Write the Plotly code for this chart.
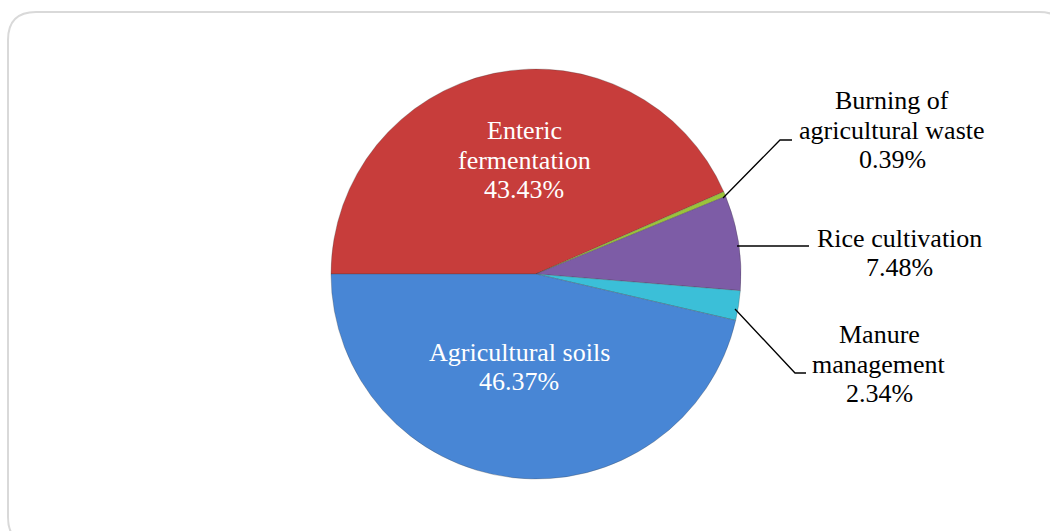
import plotly.graph_objects as go

# ---- data (clockwise from 9 o'clock) ----
categories = ["Enteric fermentation", "Burning of agricultural waste",
              "Rice cultivation", "Manure management", "Agricultural soils"]
shares = [43.43, 0.39, 7.48, 2.34, 46.37]
label_lines = {
    "Agricultural soils": ["Agricultural soils"],
    "Manure management": ["Manure", "management"],
    "Rice cultivation": ["Rice cultivation"],
    "Burning of agricultural waste": ["Burning of", "agricultural waste"],
    "Enteric fermentation": ["Enteric", "fermentation"],
}
colors = ["#C73D3B", "#9BC23C", "#7D5CA6", "#3BBFD8", "#4886D5"]

W, H = 1050, 531
FONT = "Liberation Serif, Times New Roman, serif"
LINE_GAP = 29.5

def px(x):
    return x / W

def py(y):
    return 1 - y / H

# pie geometry (pixels)
cx, cy, r = 536, 274, 205

fig = go.Figure()
fig.add_trace(go.Pie(
    labels=categories,
    values=shares,
    sort=False,
    direction="clockwise",
    rotation=-90,
    marker=dict(colors=colors, line=dict(color="rgba(60,60,60,0.35)", width=0.8)),
    textinfo="none",
    hoverinfo="label+percent",
    showlegend=False,
    domain=dict(x=[px(cx - r), px(cx + r)], y=[py(cy + r), py(cy - r)]),
))

# label placement (pixel centres of text blocks) and colours
label_pos = {
    "Agricultural soils": (519, 367, "white"),
    "Manure management": (879, 364, "black"),
    "Rice cultivation": (899, 253, "black"),
    "Burning of agricultural waste": (892, 130, "black"),
    "Enteric fermentation": (524, 160, "white"),
}

annotations = []
for cat, val in zip(categories, shares):
    x, y, col = label_pos[cat]
    lines = label_lines[cat] + [f"{val:.2f}%"]
    n = len(lines)
    for i, line in enumerate(lines):
        ly = y + (i - (n - 1) / 2) * LINE_GAP
        annotations.append(dict(
            x=px(x), y=py(ly), xref="paper", yref="paper",
            text=line, showarrow=False, xanchor="center", yanchor="middle",
            align="center", font=dict(family=FONT, size=26, color=col),
        ))

# leader lines (pixel polylines)
leaders = [
    [(723, 198), (780, 140), (792, 140)],
    [(737, 246), (809, 246)],
    [(735, 309), (795, 373), (806, 373)],
]
shapes = []
for pts in leaders:
    d = "M " + " L ".join(f"{px(x):.5f},{py(y):.5f}" for x, y in pts)
    shapes.append(dict(type="path", xref="paper", yref="paper", path=d,
                       line=dict(color="black", width=1.3)))

# rounded chart frame
x0, y0, x1, y1, rr = 8, 12, 1067, 545, 28
frame = (f"M {px(x0)},{py(y1 - rr)} "
         f"L {px(x0)},{py(y0 + rr)} "
         f"Q {px(x0)},{py(y0)} {px(x0 + rr)},{py(y0)} "
         f"L {px(x1 - rr)},{py(y0)} "
         f"Q {px(x1)},{py(y0)} {px(x1)},{py(y0 + rr)} "
         f"L {px(x1)},{py(y1 - rr)} "
         f"Q {px(x1)},{py(y1)} {px(x1 - rr)},{py(y1)} "
         f"L {px(x0 + rr)},{py(y1)} "
         f"Q {px(x0)},{py(y1)} {px(x0)},{py(y1 - rr)} Z")
shapes.append(dict(type="path", xref="paper", yref="paper", path=frame,
                   line=dict(color="#D9D9D9", width=2), layer="below"))

fig.update_layout(
    width=W, height=H,
    margin=dict(l=0, r=0, t=0, b=0),
    paper_bgcolor="white",
    plot_bgcolor="white",
    annotations=annotations,
    shapes=shapes,
)

fig.write_html("out.html", config={"displayModeBar": False},
               post_script="document.body.style.margin='0';")
